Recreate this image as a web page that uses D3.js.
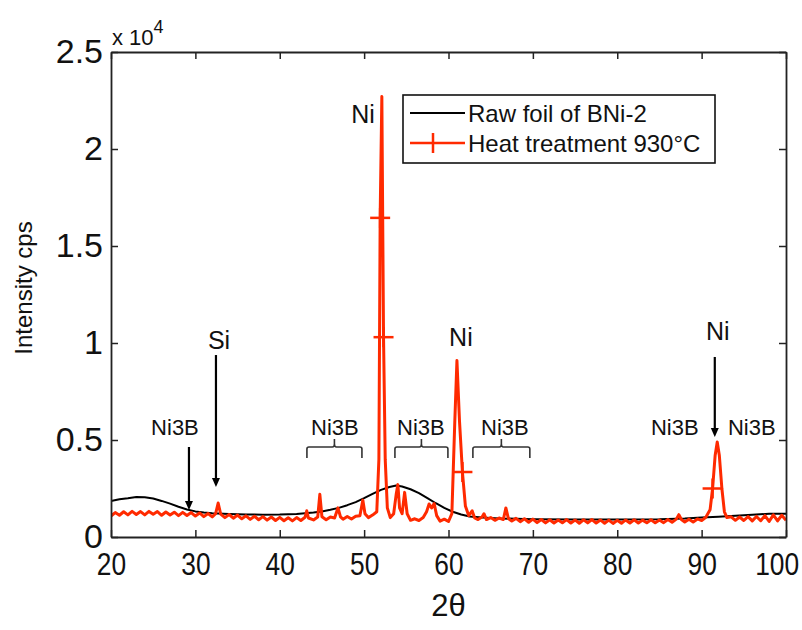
<!DOCTYPE html>
<html>
<head>
<meta charset="utf-8">
<script src="https://cdn.jsdelivr.net/npm/d3@7"></script>
<style>
  body { margin: 0; background: #fff; }
  svg { font-family: 'Liberation Sans', Arial, sans-serif; }
</style>
</head>
<body>
<svg id="chart" width="802" height="630"></svg>
<script>
// values in units of 10^4 cps
const xTicks = [20, 30, 40, 50, 60, 70, 80, 90, 100];
const yTicks = [0, 0.5, 1, 1.5, 2, 2.5];
const seriesNames = ['Raw foil of BNi-2', 'Heat treatment 930°C'];

const rawFoil = [
  [20, 0.185], [21, 0.195], [22, 0.2], [23, 0.206], [24, 0.205], [25, 0.198],
  [26, 0.186], [27, 0.172], [28, 0.156], [29, 0.142], [30, 0.132], [31, 0.126],
  [32, 0.122], [34, 0.119], [36, 0.116], [38, 0.115], [40, 0.116], [42, 0.119],
  [44, 0.126], [45, 0.132], [46, 0.14], [47, 0.15], [48, 0.164], [49, 0.18],
  [50, 0.2], [51, 0.222], [52, 0.243], [53, 0.258], [53.8, 0.265], [54.5, 0.26],
  [55.5, 0.246], [56.5, 0.226], [57.5, 0.2], [58.5, 0.174], [59.5, 0.15],
  [60.5, 0.13], [61.5, 0.116], [62.5, 0.106], [64, 0.1], [66, 0.096], [70, 0.092],
  [75, 0.09], [80, 0.09], [85, 0.091], [88, 0.095], [90, 0.1], [92, 0.105],
  [94, 0.11], [96, 0.115], [98, 0.12], [100, 0.12]
];

const heatTreat = [
  [20, 0.108], [20.5, 0.126], [21, 0.112], [21.5, 0.13], [22, 0.114], [22.5, 0.132],
  [23, 0.116], [23.5, 0.131], [24, 0.114], [24.5, 0.132], [25, 0.117], [25.5, 0.131],
  [26, 0.112], [26.5, 0.129], [27, 0.113], [27.5, 0.128], [28, 0.11], [28.5, 0.127],
  [29, 0.111], [29.5, 0.126], [30, 0.108], [30.5, 0.124], [31, 0.105], [31.5, 0.121],
  [32, 0.104], [32.4, 0.12], [32.7, 0.175], [33, 0.118], [33.5, 0.1], [34, 0.116],
  [34.5, 0.097], [35, 0.113], [35.5, 0.094], [36, 0.109], [36.5, 0.091], [37, 0.107],
  [37.5, 0.089], [38, 0.105], [38.5, 0.087], [39, 0.103], [39.5, 0.085], [40, 0.101],
  [40.5, 0.084], [41, 0.099], [41.5, 0.083], [42, 0.1], [42.5, 0.085], [43, 0.102],
  [43.2, 0.135], [43.4, 0.098], [44, 0.088], [44.5, 0.103], [44.75, 0.22], [45, 0.104],
  [45.5, 0.089], [46, 0.103], [46.5, 0.098], [46.9, 0.15], [47.2, 0.104], [47.5, 0.092],
  [48, 0.106], [48.5, 0.093], [49, 0.107], [49.5, 0.11], [49.85, 0.19], [50.1, 0.12],
  [50.5, 0.1], [51, 0.113], [51.5, 0.13], [51.75, 0.4], [51.9, 1.645], [52.1, 2.27],
  [52.3, 1.03], [52.5, 0.4], [52.75, 0.15], [53.1, 0.1], [53.5, 0.12], [53.8, 0.22],
  [54, 0.27], [54.2, 0.15], [54.5, 0.12], [54.8, 0.23], [55.1, 0.12], [55.5, 0.086],
  [56, 0.094], [56.5, 0.085], [57, 0.1], [57.4, 0.13], [57.7, 0.17], [58, 0.15],
  [58.3, 0.172], [58.6, 0.11], [59, 0.082], [59.5, 0.092], [60, 0.08], [60.4, 0.12],
  [60.75, 0.6], [61, 0.91], [61.3, 0.6], [61.65, 0.335], [62, 0.16], [62.4, 0.11],
  [62.8, 0.135], [63.1, 0.098], [63.5, 0.09], [64, 0.104], [64.2, 0.12], [64.5, 0.09],
  [65, 0.1], [65.5, 0.086], [66, 0.098], [66.5, 0.09], [66.8, 0.15], [67.1, 0.095],
  [67.5, 0.082], [68, 0.096], [68.5, 0.079], [69, 0.094], [69.5, 0.076], [70, 0.092],
  [70.5, 0.074], [71, 0.09], [71.5, 0.073], [72, 0.089], [72.5, 0.072], [73, 0.088],
  [73.5, 0.073], [74, 0.09], [74.5, 0.072], [75, 0.088], [75.5, 0.071], [76, 0.089],
  [76.5, 0.073], [77, 0.09], [77.5, 0.072], [78, 0.088], [78.5, 0.071], [79, 0.087],
  [79.5, 0.07], [80, 0.086], [80.5, 0.071], [81, 0.088], [81.5, 0.072], [82, 0.089],
  [82.5, 0.072], [83, 0.087], [83.5, 0.073], [84, 0.089], [84.5, 0.073], [85, 0.088],
  [85.5, 0.074], [86, 0.09], [86.5, 0.076], [87, 0.092], [87.3, 0.115], [87.6, 0.09],
  [88, 0.077], [88.5, 0.092], [89, 0.077], [89.5, 0.093], [90, 0.085], [90.5, 0.102],
  [91, 0.14], [91.3, 0.25], [91.6, 0.42], [91.85, 0.49], [92.1, 0.42], [92.4, 0.25],
  [92.7, 0.13], [93, 0.1], [93.5, 0.104], [94, 0.086], [94.5, 0.103], [95, 0.085],
  [95.5, 0.105], [96, 0.083], [96.5, 0.106], [97, 0.084], [97.5, 0.11], [98, 0.08],
  [98.5, 0.114], [99, 0.083], [99.5, 0.112], [100, 0.086]
];

// points of the heat-treated series that show their "+" marker
const heatMarkers = [[51.9, 1.645], [52.3, 1.03], [61.65, 0.335], [91.3, 0.25]];

const peakLabels = [
  { text: 'Ni', x: 49.86, y: 2.18 },
  { text: 'Ni', x: 61.47, y: 1.03 },
  { text: 'Ni', x: 91.92, y: 1.06 },
  { text: 'Si', x: 32.8, y: 1.015 }
];
const phaseLabels = [
  { text: 'Ni3B', x: 27.58, y: 0.562 },
  { text: 'Ni3B', x: 46.54, y: 0.562 },
  { text: 'Ni3B', x: 56.73, y: 0.562 },
  { text: 'Ni3B', x: 66.68, y: 0.562 },
  { text: 'Ni3B', x: 86.82, y: 0.562 },
  { text: 'Ni3B', x: 95.95, y: 0.562 }
];
const arrows = [
  { x: 29.24, from: 0.464, to: 0.139 },
  { x: 32.44, from: 0.938, to: 0.258 },
  { x: 91.56, from: 0.928, to: 0.515 }
];
const braces = [
  { x0: 43.22, x1: 49.74, y: 0.464 },
  { x0: 53.65, x1: 59.93, y: 0.464 },
  { x0: 62.89, x1: 69.64, y: 0.464 }
];

const red = '#ff2a00';
const plot = { left: 111, right: 786, top: 52, bottom: 537 };

const svg = d3.select('#chart');
const x = d3.scaleLinear().domain([20, 100]).range([plot.left, plot.right]);
const y = d3.scaleLinear().domain([0, 2.5]).range([plot.bottom, plot.top]);

svg.append('defs').append('clipPath').attr('id', 'clip')
  .append('rect')
  .attr('x', plot.left).attr('y', plot.top)
  .attr('width', plot.right - plot.left).attr('height', plot.bottom - plot.top);

const line = d3.line().x(d => x(d[0])).y(d => y(d[1]));

const lines = svg.append('g').attr('clip-path', 'url(#clip)');
lines.append('path').datum(rawFoil)
  .attr('d', line).attr('fill', 'none')
  .attr('stroke', '#000').attr('stroke-width', 2).attr('stroke-linejoin', 'round');
lines.append('path').datum(heatTreat)
  .attr('d', line).attr('fill', 'none')
  .attr('stroke', red).attr('stroke-width', 3).attr('stroke-linejoin', 'round');

const plus = (g, cx, cy, r) => {
  g.append('line').attr('x1', cx - r).attr('x2', cx + r).attr('y1', cy).attr('y2', cy);
  g.append('line').attr('x1', cx).attr('x2', cx).attr('y1', cy - r).attr('y2', cy + r);
};
const markers = svg.append('g').attr('stroke', red).attr('stroke-width', 2.5);
heatMarkers.forEach(d => plus(markers, x(d[0]), y(d[1]), 10));

// axes (MATLAB style box, ticks inward on every side)
const axisStyle = g => {
  g.select('.domain').attr('stroke', '#222').attr('stroke-width', 1.8);
  g.selectAll('.tick line').attr('stroke', '#222').attr('stroke-width', 1.5);
  g.selectAll('.tick text').attr('fill', '#111');
};

svg.append('g')
  .attr('transform', `translate(0,${plot.bottom})`)
  .call(d3.axisBottom(x).tickValues(xTicks).tickSizeInner(-7).tickSizeOuter(0).tickPadding(16))
  .call(axisStyle)
  .call(g => g.selectAll('.tick text')
    .attr('font-size', 31).attr('font-family', null)
    .attr('transform', 'scale(0.85,1)')
    .filter(d => d === 100).attr('dx', -11));

svg.append('g')
  .attr('transform', `translate(0,${plot.top})`)
  .call(d3.axisTop(x).tickValues(xTicks).tickSizeInner(-7).tickSizeOuter(0).tickFormat(''))
  .call(axisStyle);

svg.append('g')
  .attr('transform', `translate(${plot.left},0)`)
  .call(d3.axisLeft(y).tickValues(yTicks).tickSizeInner(-7).tickSizeOuter(0).tickPadding(8).tickFormat(d => d))
  .call(axisStyle)
  .call(g => g.selectAll('.tick text').attr('font-size', 34).attr('font-family', null));

svg.append('g')
  .attr('transform', `translate(${plot.right},0)`)
  .call(d3.axisRight(y).tickValues(yTicks).tickSizeInner(-7).tickSizeOuter(0).tickFormat(''))
  .call(axisStyle);

// exponent
const expo = svg.append('text').attr('x', plot.left + 1).attr('y', 45)
  .attr('font-size', 22).attr('fill', '#111');
expo.append('tspan').text('x 10');
expo.append('tspan').attr('font-size', 18).attr('dy', -12).text('4');

// axis titles
svg.append('text')
  .attr('transform', 'translate(32,288) rotate(-90)')
  .attr('text-anchor', 'middle').attr('font-size', 24).attr('fill', '#111')
  .text('Intensity cps');
svg.append('text')
  .attr('x', (plot.left + plot.right) / 2).attr('y', 616)
  .attr('text-anchor', 'middle').attr('font-size', 31).attr('fill', '#111')
  .text('2θ');

// annotations
const notes = svg.append('g').attr('fill', '#111');
notes.selectAll('.peak').data(peakLabels).join('text')
  .attr('x', d => x(d.x)).attr('y', d => y(d.y))
  .attr('text-anchor', 'middle').attr('dominant-baseline', 'central')
  .attr('font-size', 25).text(d => d.text);
notes.selectAll('.phase').data(phaseLabels).join('text')
  .attr('x', d => x(d.x)).attr('y', d => y(d.y))
  .attr('text-anchor', 'middle').attr('dominant-baseline', 'central')
  .attr('font-size', 22).text(d => d.text);

const arrowG = svg.append('g');
arrows.forEach(a => {
  const ax = x(a.x), y0 = y(a.from), y1 = y(a.to);
  arrowG.append('line').attr('x1', ax).attr('x2', ax).attr('y1', y0).attr('y2', y1 - 6)
    .attr('stroke', '#000').attr('stroke-width', 2.2);
  arrowG.append('path')
    .attr('d', `M${ax - 4},${y1 - 9} L${ax + 4},${y1 - 9} L${ax},${y1} Z`)
    .attr('fill', '#000');
});

const braceG = svg.append('g').attr('fill', 'none').attr('stroke', '#333').attr('stroke-width', 1.6);
braces.forEach(b => {
  const bx0 = x(b.x0), bx1 = x(b.x1), by = y(b.y), mid = (bx0 + bx1) / 2;
  braceG.append('path')
    .attr('d', `M${bx0},${by + 11} L${bx0},${by + 2} Q${bx0},${by} ${bx0 + 2},${by} L${mid - 2},${by} Q${mid},${by} ${mid},${by - 3} L${mid},${by - 8} M${mid},${by - 3} Q${mid},${by} ${mid + 2},${by} L${bx1 - 2},${by} Q${bx1},${by} ${bx1},${by + 2} L${bx1},${by + 11}`);
});

// legend
const legend = svg.append('g').attr('transform', 'translate(403,95)');
legend.append('rect').attr('width', 312).attr('height', 68)
  .attr('fill', '#fff').attr('stroke', '#111').attr('stroke-width', 1.6);
seriesNames.forEach((name, i) => {
  const ly = 18 + i * 30;
  legend.append('line').attr('x1', 7).attr('x2', 62).attr('y1', ly).attr('y2', ly)
    .attr('stroke', i === 0 ? '#000' : red).attr('stroke-width', i === 0 ? 2 : 2.5);
  if (i === 1) {
    legend.append('line').attr('x1', 30).attr('x2', 30).attr('y1', ly - 10).attr('y2', ly + 10)
      .attr('stroke', red).attr('stroke-width', 2.5);
  }
  legend.append('text').attr('x', 65).attr('y', ly).attr('dominant-baseline', 'central')
    .attr('font-size', 24).attr('fill', '#111').text(name);
});
</script>
</body>
</html>
